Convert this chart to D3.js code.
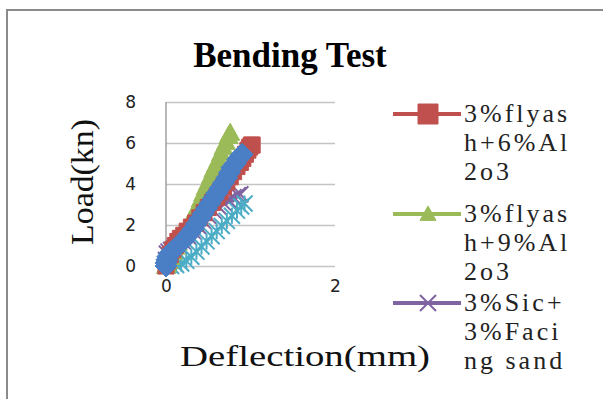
<!DOCTYPE html>
<html>
<head>
<meta charset="utf-8">
<script src="https://cdn.jsdelivr.net/npm/d3@7"></script>
<style>
  html, body { margin: 0; padding: 0; background: #fff; }
  svg { display: block; }
</style>
</head>
<body>
<svg id="chart" width="603" height="399"></svg>
<script>
// Deflection (mm) / load (kN) readings per mix
const flyash6X = [0, 0.02, 0.05, 0.08, 0.11, 0.14, 0.17, 0.21, 0.25, 0.30, 0.35, 0.40, 0.45, 0.50, 0.55, 0.60, 0.64, 0.68, 0.72, 0.76, 0.80, 0.84, 0.88, 0.91, 0.94, 0.97, 0.99, 1.01, 1.02];
const flyash6Y = [0, 0.25, 0.55, 0.80, 1.00, 1.20, 1.35, 1.50, 1.70, 1.90, 2.10, 2.35, 2.60, 2.85, 3.10, 3.35, 3.60, 3.85, 4.10, 4.35, 4.60, 4.85, 5.05, 5.25, 5.45, 5.65, 5.80, 5.90, 5.90];

const flyash9X = [0, 0.01, 0.03, 0.05, 0.08, 0.11, 0.14, 0.17, 0.20, 0.23, 0.26, 0.29, 0.32, 0.35, 0.38, 0.41, 0.44, 0.47, 0.50, 0.53, 0.56, 0.59, 0.62, 0.65, 0.68, 0.71, 0.74, 0.76];
const flyash9Y = [0, 0.10, 0.25, 0.45, 0.70, 0.95, 1.15, 1.35, 1.55, 1.75, 1.95, 2.20, 2.45, 2.70, 2.95, 3.25, 3.55, 3.85, 4.10, 4.40, 4.70, 4.95, 5.20, 5.50, 5.80, 6.05, 6.35, 6.50];

const sicX = [0, 0, 0.01, 0.03, 0.06, 0.10, 0.15, 0.20, 0.26, 0.32, 0.38, 0.44, 0.50, 0.56, 0.62, 0.68, 0.74, 0.80, 0.85, 0.88];
const sicY = [0, 0.30, 0.60, 0.70, 0.78, 0.88, 1.02, 1.20, 1.45, 1.70, 1.95, 2.20, 2.45, 2.70, 2.90, 3.08, 3.22, 3.35, 3.45, 3.50];

const mix4X = [0.06, 0.12, 0.18, 0.24, 0.30, 0.36, 0.42, 0.48, 0.54, 0.60, 0.66, 0.72, 0.78, 0.84, 0.89, 0.93];
const mix4Y = [0, 0.05, 0.12, 0.25, 0.45, 0.70, 0.95, 1.20, 1.45, 1.70, 1.95, 2.20, 2.45, 2.70, 2.90, 3.05];

const mix5X = [0, 0.00, 0.01, 0.02, 0.04, 0.08, 0.12, 0.16, 0.20, 0.24, 0.28, 0.32, 0.36, 0.40, 0.44, 0.48, 0.52, 0.56, 0.60, 0.64, 0.68, 0.72, 0.75, 0.78, 0.82, 0.85, 0.88, 0.90];
const mix5Y = [0, 0.15, 0.30, 0.45, 0.60, 0.75, 0.90, 1.05, 1.20, 1.40, 1.60, 1.80, 2.05, 2.30, 2.55, 2.80, 3.05, 3.30, 3.55, 3.80, 4.05, 4.30, 4.55, 4.80, 5.00, 5.20, 5.35, 5.45];

const legendLines = [
  ["3%flyas", "h+6%Al", "2o3"],
  ["3%flyas", "h+9%Al", "2o3"],
  ["3%Sic+", "3%Faci", "ng sand"]
];

const xTicks = [0, 2];
const yTicks = [0, 2, 4, 6, 8];

const titleText = "Bending Test";
const xTitle = "Deflection(mm)";
const yTitle = "Load(kn)";

// Series in drawing order (later ones paint over earlier ones)
const series = [
  { xs: sicX, ys: sicY, color: "#8064A2", marker: "x", size: 16, legend: 2 },
  { xs: mix4X, ys: mix4Y, color: "#4BACC6", marker: "star", size: 16, legend: -1 },
  { xs: flyash9X, ys: flyash9Y, color: "#9BBB59", marker: "triangle", size: 19, legend: 1 },
  { xs: flyash6X, ys: flyash6Y, color: "#C0504D", marker: "square", size: 16, legend: 0 },
  { xs: mix5X, ys: mix5Y, color: "#4A7FC6", marker: "diamond", size: 22, legend: -1 }
];

const svg = d3.select("#chart");

// chart area frame
svg.append("rect")
  .attr("x", 7).attr("y", 10)
  .attr("width", 640).attr("height", 440)
  .attr("fill", "#fff")
  .attr("stroke", "#8a8a8a")
  .attr("stroke-width", 2);

svg.append("text")
  .attr("x", 290).attr("y", 67)
  .attr("text-anchor", "middle")
  .attr("font-family", "Liberation Serif, Times New Roman, serif")
  .attr("font-weight", "bold")
  .attr("font-size", 35)
  .attr("fill", "#000")
  .text(titleText);

const x = d3.scaleLinear().domain([0, 2]).range([166, 335]);
const y = d3.scaleLinear().domain([0, 8]).range([266, 102]);

// horizontal gridlines
const grid = d3.axisLeft(y).tickValues(yTicks).tickSize(-(x.range()[1] - x.range()[0])).tickFormat("");
const gridG = svg.append("g").attr("transform", `translate(${x.range()[0]},0)`).call(grid);
gridG.select(".domain").remove();
gridG.selectAll("line").attr("stroke", "#c4c4c4").attr("stroke-width", 1.5);

// vertical axis line
svg.append("line")
  .attr("x1", x(0)).attr("x2", x(0))
  .attr("y1", y(8)).attr("y2", y(0))
  .attr("stroke", "#a0a0a0").attr("stroke-width", 1.5);

// y tick labels
const yAxis = d3.axisLeft(y).tickValues(yTicks).tickSize(0).tickPadding(30).tickFormat(d3.format("d"));
const yG = svg.append("g").attr("transform", `translate(${x(0)},0)`).call(yAxis);
yG.select(".domain").remove();
yG.selectAll("text")
  .attr("font-family", "DejaVu Sans, Verdana, sans-serif")
  .attr("font-size", 17).attr("fill", "#222");

// x tick labels
const xAxis = d3.axisBottom(x).tickValues(xTicks).tickSize(0).tickPadding(14).tickFormat(d3.format("d"));
const xG = svg.append("g").attr("transform", `translate(0,${y(0)})`).call(xAxis);
xG.select(".domain").remove();
xG.selectAll("text")
  .attr("font-family", "DejaVu Sans, Verdana, sans-serif")
  .attr("font-size", 17).attr("fill", "#222");

// axis titles
svg.append("text")
  .attr("x", 305).attr("y", 366)
  .attr("text-anchor", "middle")
  .attr("font-family", "Liberation Serif, Times New Roman, serif")
  .attr("font-size", 30)
  .attr("textLength", 250).attr("lengthAdjust", "spacingAndGlyphs")
  .attr("fill", "#111")
  .text(xTitle);

svg.append("text")
  .attr("transform", "translate(93,182) rotate(-90)")
  .attr("text-anchor", "middle")
  .attr("font-family", "Liberation Serif, Times New Roman, serif")
  .attr("font-size", 31)
  .attr("textLength", 126).attr("lengthAdjust", "spacingAndGlyphs")
  .attr("fill", "#111")
  .text(yTitle);

// marker shapes
function markerPath(kind, s) {
  const h = s / 2;
  switch (kind) {
    case "square": return `M${-h},${-h}H${h}V${h}H${-h}Z`;
    case "diamond": return `M0,${-h}L${h},0L0,${h}L${-h},0Z`;
    case "triangle": return `M0,${-h}L${h},${h * 0.8}L${-h},${h * 0.8}Z`;
    case "x": return `M${-h},${-h}L${h},${h}M${h},${-h}L${-h},${h}`;
    case "star": return `M${-h},${-h}L${h},${h}M${h},${-h}L${-h},${h}M0,${-h}V${h}`;
  }
}
const filled = k => k === "square" || k === "diamond" || k === "triangle";

const plot = svg.append("g");
series.forEach(s => {
  const pts = s.xs.map((v, i) => [v, s.ys[i]]);
  plot.append("path")
    .datum(pts)
    .attr("fill", "none")
    .attr("stroke", s.color)
    .attr("stroke-width", 3)
    .attr("d", d3.line().x(d => x(d[0])).y(d => y(d[1])));
  plot.selectAll(null)
    .data(pts)
    .join("path")
    .attr("transform", d => `translate(${x(d[0])},${y(d[1])})`)
    .attr("d", markerPath(s.marker, s.size))
    .attr("fill", filled(s.marker) ? s.color : "none")
    .attr("stroke", s.color)
    .attr("stroke-width", filled(s.marker) ? 1 : 2);
});

// legend
const legendTop = [114, 214, 303];
const lg = svg.append("g");
series.filter(s => s.legend >= 0).sort((a, b) => a.legend - b.legend).forEach(s => {
  const cy = legendTop[s.legend];
  lg.append("line")
    .attr("x1", 393).attr("x2", 461)
    .attr("y1", cy).attr("y2", cy)
    .attr("stroke", s.color).attr("stroke-width", 4);
  lg.append("path")
    .attr("transform", `translate(428,${cy})`)
    .attr("d", markerPath(s.marker, s.marker === "square" ? 20 : 16))
    .attr("fill", filled(s.marker) ? s.color : "none")
    .attr("stroke", s.color)
    .attr("stroke-width", filled(s.marker) ? 1 : 2);
  legendLines[s.legend].forEach((t, i) => {
    lg.append("text")
      .attr("x", 464).attr("y", cy + 8 + i * 29)
      .attr("font-family", "Liberation Serif, Times New Roman, serif")
      .attr("font-size", 26)
      .attr("letter-spacing", 3)
      .attr("fill", "#222")
      .text(t);
  });
});
</script>
</body>
</html>
